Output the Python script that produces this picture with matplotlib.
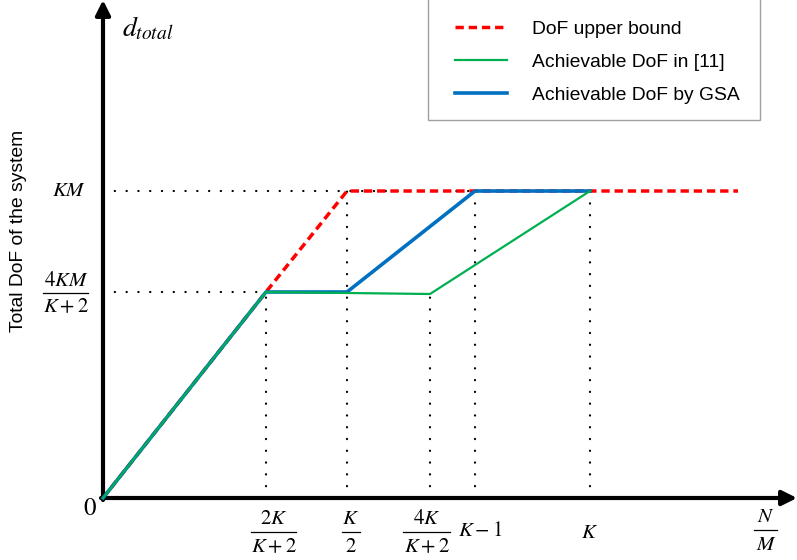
import matplotlib
matplotlib.use("Agg")
import matplotlib.pyplot as plt
from matplotlib.patches import Rectangle

plt.rcParams['mathtext.fontset'] = 'stix'
plt.rcParams['font.family'] = ['Liberation Sans', 'DejaVu Sans']

# break points on N/M axis (schematic units)
x_2k = 163      # 2K/(K+2)
x_k2 = 244      # K/2
x_4k = 327      # 4K/(K+2)
x_k1 = 372      # K-1
x_k = 487       # K
x_end = 635

# DoF levels
y_km = 307      # KM
y_4km = 206     # 4KM/(K+2)
y_green_dip = 204

upper_x = [0, x_2k, x_k2, x_end]
upper_y = [0, y_4km, y_km, y_km]
ref11_x = [0, x_2k, x_4k, x_k]
ref11_y = [0, y_4km, y_green_dip, y_km]
gsa_x = [0, x_2k, x_k2, x_k1, x_k]
gsa_y = [0, y_4km, y_4km, y_km, y_km]

fig = plt.figure(figsize=(7.97, 5.60), dpi=100)
ax = fig.add_axes([0, 0, 1, 1])
ax.set_xlim(-103, 694)
ax.set_ylim(-62, 498)
ax.axis('off')


def frac(x, y, num, den, w, fs=15, up=13, down=15):
    ax.text(x, y + up, num, ha='center', va='center', fontsize=fs)
    ax.text(x, y - down, den, ha='center', va='center', fontsize=fs)
    ax.plot([x - w / 2, x + w / 2], [y, y], color='black', lw=0.9)


dot = dict(color='black', lw=1.6, linestyle=(0, (0.1, 5.2)), dash_capstyle='round')
ax.plot([0, x_k], [y_km, y_km], **dot)
ax.plot([0, x_2k], [y_4km, y_4km], **dot)
for xv, yv in [(x_2k, y_4km), (x_k2, y_km), (x_4k, y_green_dip), (x_k1, y_km), (x_k, y_km)]:
    ax.plot([xv, xv], [0, yv], **dot)

# axes with arrows
ax.annotate('', xy=(694, 0), xytext=(-2, 0),
            arrowprops=dict(arrowstyle='-|>', lw=3, color='black', mutation_scale=22, shrinkA=0, shrinkB=0))
ax.annotate('', xy=(0, 498), xytext=(0, -2),
            arrowprops=dict(arrowstyle='-|>', lw=3, color='black', mutation_scale=22, shrinkA=0, shrinkB=0))

ax.plot(upper_x, upper_y, color='#ff0000', lw=2.5, linestyle=(0, (2.4, 1.4)), label='DoF upper bound')
ax.plot(gsa_x, gsa_y, color='#0070c0', lw=2.6, label='Achievable DoF by GSA', zorder=3)
ax.plot(ref11_x, ref11_y, color='#00b050', lw=1.6, label='Achievable DoF in [11]', zorder=4)

# x labels
frac(171, -34, r'$2K$', r'$K+2$', 45)
frac(248, -34, r'$K$', r'$2$', 18)
frac(324, -34, r'$4K$', r'$K+2$', 47)
ax.text(377, -33, r'$K-1$', ha='center', va='center', fontsize=15)
ax.text(x_k, -35, r'$K$', ha='center', va='center', fontsize=15)
frac(663, -32, r'$N$', r'$M$', 23)

# y labels
ax.text(-13, -10, r'$0$', ha='center', va='center', fontsize=18)
ax.text(-34, y_km, r'$KM$', ha='center', va='center', fontsize=15)
frac(-37, 205, r'$4KM$', r'$K+2$', 45, up=12, down=14)
ax.text(19, 469, r'$d_{total}$', ha='left', va='center', fontsize=20)
ax.text(-84, 267, 'Total DoF of the system', rotation=90, ha='center', va='center', fontsize=13.9)

h, l = ax.get_legend_handles_labels()
order = [0, 2, 1]
leg = ax.legend([h[i] for i in order], [l[i] for i in order],
                loc='center left', bbox_to_anchor=(455 / 797, 1 - 62 / 560),
                bbox_transform=fig.transFigure, fontsize=13.9, frameon=False,
                borderpad=0, labelspacing=0.8, handlelength=2.7,
                handletextpad=1.3, borderaxespad=0)
fig.patches.append(Rectangle((428 / 797, 1 - 120 / 560), 332 / 797, 140 / 560,
                             transform=fig.transFigure, fill=False, edgecolor='#a0a0a0', lw=1.0))

fig.savefig('out.png', dpi=100)
